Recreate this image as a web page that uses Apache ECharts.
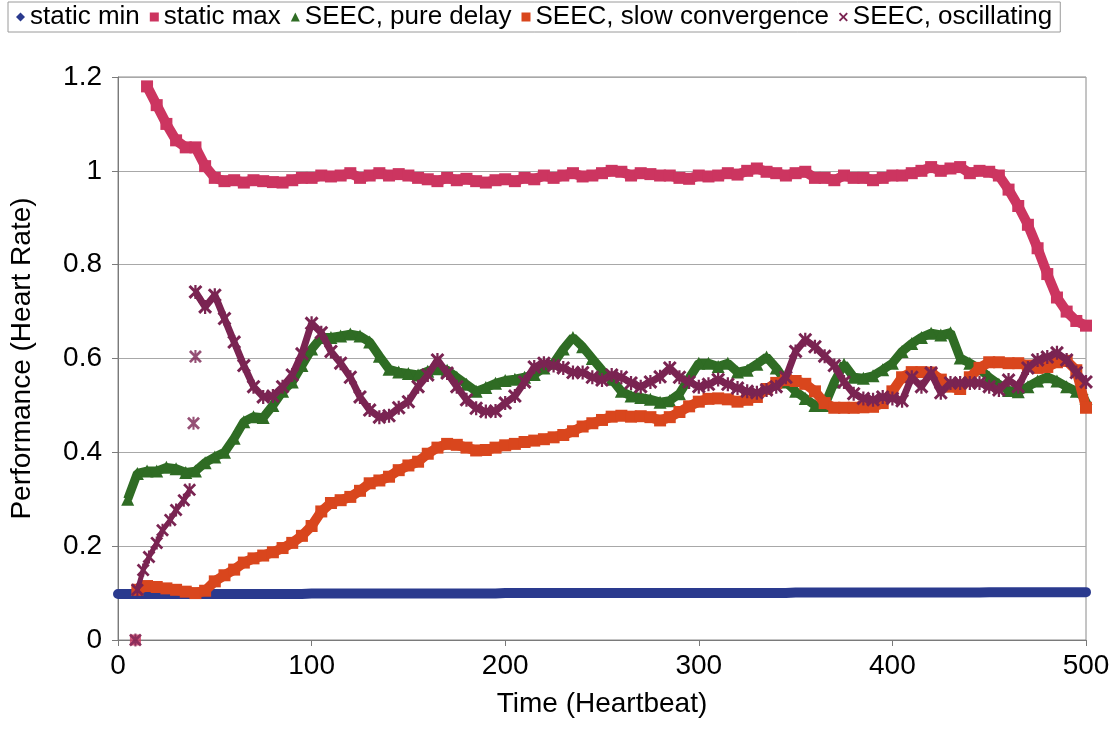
<!DOCTYPE html>
<html>
<head>
<meta charset="utf-8">
<script src="https://cdn.jsdelivr.net/npm/echarts@6/dist/echarts.min.js"></script>
<style>
html,body{margin:0;padding:0;background:#fff;}
#chart{width:1114px;height:748px;}
</style>
</head>
<body>
<div id="chart"></div>
<script>
// ---- data ----
const heartbeats = [
  0, 5, 10, 15, 20, 25, 30, 35, 40, 45,
  50, 55, 60, 65, 70, 75, 80, 85, 90, 95,
  100, 105, 110, 115, 120, 125, 130, 135, 140, 145,
  150, 155, 160, 165, 170, 175, 180, 185, 190, 195,
  200, 205, 210, 215, 220, 225, 230, 235, 240, 245,
  250, 255, 260, 265, 270, 275, 280, 285, 290, 295,
  300, 305, 310, 315, 320, 325, 330, 335, 340, 345,
  350, 355, 360, 365, 370, 375, 380, 385, 390, 395,
  400, 405, 410, 415, 420, 425, 430, 435, 440, 445,
  450, 455, 460, 465, 470, 475, 480, 485, 490, 495,
  500
];

const staticMin = [
  0.098, 0.098, 0.098, 0.098, 0.098, 0.098, 0.098, 0.098, 0.098, 0.098,
  0.098, 0.098, 0.098, 0.098, 0.098, 0.098, 0.098, 0.098, 0.098, 0.098,
  0.099, 0.099, 0.099, 0.099, 0.099, 0.099, 0.099, 0.099, 0.099, 0.099,
  0.099, 0.099, 0.099, 0.099, 0.099, 0.099, 0.099, 0.099, 0.099, 0.099,
  0.1, 0.1, 0.1, 0.1, 0.1, 0.1, 0.1, 0.1, 0.1, 0.1,
  0.1, 0.1, 0.1, 0.1, 0.1, 0.1, 0.1, 0.1, 0.1, 0.1,
  0.1, 0.1, 0.1, 0.1, 0.1, 0.1, 0.1, 0.1, 0.1, 0.1,
  0.101, 0.101, 0.101, 0.101, 0.101, 0.101, 0.101, 0.101, 0.101, 0.101,
  0.101, 0.101, 0.101, 0.101, 0.101, 0.101, 0.101, 0.101, 0.101, 0.101,
  0.102, 0.102, 0.102, 0.102, 0.102, 0.102, 0.102, 0.102, 0.102, 0.102,
  0.102
];

const staticMax = [
  null, null, null, 1.18, 1.14, 1.10, 1.065, 1.05, 1.05, 1.01,
  0.985, 0.978, 0.98, 0.975, 0.98, 0.978, 0.976, 0.975, 0.98, 0.985,
  0.985, 0.99, 0.988, 0.99, 0.995, 0.985, 0.99, 0.995, 0.99, 0.993,
  0.99, 0.985, 0.982, 0.978, 0.985, 0.98, 0.983, 0.978, 0.975, 0.98,
  0.982, 0.978, 0.985, 0.982, 0.99, 0.985, 0.99, 0.995, 0.988, 0.99,
  0.995, 1.0, 0.998, 0.99, 0.995, 0.993, 0.99, 0.99, 0.985, 0.983,
  0.99, 0.988, 0.99, 0.995, 0.992, 1.0, 1.005, 0.998, 0.995, 0.99,
  0.995, 0.998, 0.985, 0.985, 0.98, 0.99, 0.985, 0.985, 0.98, 0.985,
  0.99, 0.99, 0.995, 1.0, 1.008, 1.0, 1.005, 1.008, 0.995, 1.0,
  0.998, 0.99, 0.96, 0.925, 0.885, 0.835, 0.78, 0.73, 0.70, 0.68,
  0.67
];

const pureDelay = [
  null, 0.30, 0.355, 0.36, 0.36, 0.368, 0.365, 0.357, 0.36, 0.378,
  0.39, 0.40, 0.43, 0.465, 0.476, 0.474, 0.50, 0.53, 0.55, 0.585,
  0.62, 0.645, 0.645, 0.648, 0.652, 0.648, 0.635, 0.605, 0.577, 0.571,
  0.568, 0.565, 0.573, 0.578, 0.575, 0.56, 0.545, 0.53, 0.538, 0.547,
  0.553, 0.556, 0.56, 0.566, 0.58, 0.59, 0.62, 0.645, 0.625, 0.60,
  0.575, 0.556, 0.53, 0.52, 0.517, 0.513, 0.507, 0.51, 0.525, 0.558,
  0.59, 0.59, 0.583, 0.59, 0.571, 0.575, 0.588, 0.603, 0.58, 0.55,
  0.53, 0.515, 0.50, 0.50, 0.55, 0.588, 0.56, 0.558, 0.563, 0.576,
  0.59, 0.615, 0.632, 0.645, 0.654, 0.65, 0.655, 0.601, 0.59, 0.578,
  0.56, 0.545, 0.532, 0.529, 0.54, 0.552, 0.561, 0.552, 0.54, 0.53,
  0.515
];

const slowConvergence = [
  null, null, 0.107, 0.115, 0.113, 0.11, 0.107, 0.103, 0.1, 0.105,
  0.125, 0.138, 0.15, 0.165, 0.174, 0.18, 0.187, 0.196, 0.207, 0.222,
  0.243, 0.274, 0.292, 0.298, 0.305, 0.318, 0.334, 0.34, 0.348, 0.362,
  0.372, 0.38, 0.397, 0.41, 0.418, 0.416, 0.41, 0.404, 0.405, 0.41,
  0.415, 0.418, 0.422, 0.425, 0.428, 0.432, 0.437, 0.445, 0.455, 0.462,
  0.469, 0.476, 0.478, 0.476, 0.477, 0.475, 0.468, 0.475, 0.486, 0.498,
  0.508, 0.514, 0.515, 0.513, 0.508, 0.512, 0.518, 0.535, 0.548, 0.554,
  0.552, 0.546, 0.53, 0.505, 0.495, 0.495, 0.495, 0.496, 0.497, 0.505,
  0.53, 0.56, 0.571, 0.571, 0.57, 0.555, 0.54, 0.535, 0.56, 0.58,
  0.592, 0.592, 0.59, 0.59, 0.585, 0.58, 0.582, 0.592, 0.595, 0.575,
  0.495
];

const oscillating = [
  null, null, null, null, null, null, null, null, 0.742, 0.71,
  0.735, 0.685, 0.635, 0.585, 0.54, 0.518, 0.52, 0.54, 0.565, 0.61,
  0.675, 0.655, 0.615, 0.59, 0.56, 0.518, 0.49, 0.475, 0.478, 0.495,
  0.508, 0.54, 0.565, 0.597, 0.569, 0.54, 0.512, 0.494, 0.487, 0.488,
  0.505, 0.52, 0.55, 0.582, 0.59, 0.585, 0.58, 0.57, 0.57, 0.56,
  0.554, 0.565, 0.56, 0.548, 0.54, 0.55, 0.561, 0.58, 0.56, 0.55,
  0.54, 0.545, 0.555, 0.545, 0.537, 0.53, 0.527, 0.533, 0.54, 0.56,
  0.615, 0.64, 0.625, 0.605, 0.585, 0.55, 0.525, 0.515, 0.512, 0.518,
  0.515, 0.51, 0.56, 0.54, 0.569, 0.527, 0.548, 0.548, 0.548, 0.548,
  0.54, 0.533, 0.554, 0.54, 0.58, 0.597, 0.603, 0.612, 0.597, 0.57,
  0.55
];

// early ramp of the oscillating controller (before it jumps up)
const oscRampBeats  = [10, 13, 16, 20, 23, 27, 30, 34, 37];
const oscRampValues = [0.107, 0.149, 0.177, 0.207, 0.234, 0.256, 0.277, 0.298, 0.32];
// isolated points
const oscLooseBeats  = [9, 39, 40];
const oscLooseValues = [0, 0.462, 0.604];
const maxLooseBeats  = [9];
const maxLooseValues = [0];

const seriesNames = ['static min', 'static max', 'SEEC, pure delay', 'SEEC, slow convergence', 'SEEC, oscillating'];
const xTicks = [0, 100, 200, 300, 400, 500];
const yTicks = [0, 0.2, 0.4, 0.6, 0.8, 1.0, 1.2];

// ---- build ----
function pairs(xs, ys) {
  return xs.map((x, i) => [x, ys[i] == null ? '-' : ys[i]]);
}
const colors = {
  min: '#2a3a8e',
  max: '#cc3560',
  delay: '#2f6c24',
  slow: '#d9461d',
  osc: '#7a2452'
};
const starPath = 'path://M1.5,0 L5,3.5 L8.5,0 L10,1.5 L6.5,5 L10,8.5 L8.5,10 L5,6.5 L1.5,10 L0,8.5 L3.5,5 L0,1.5 Z M4.2,0 L5.8,0 L5.8,10 L4.2,10 Z';
const xPath = 'path://M1.5,0 L5,3.5 L8.5,0 L10,1.5 L6.5,5 L10,8.5 L8.5,10 L5,6.5 L1.5,10 L0,8.5 L3.5,5 L0,1.5 Z';
const font = "'Liberation Sans', Arial, sans-serif";

const chart = echarts.init(document.getElementById('chart'), null, {renderer: 'canvas'});
chart.setOption({
  animation: false,
  backgroundColor: '#fff',
  textStyle: {fontFamily: font},
  legend: {
    left: 8, top: 2,
    padding: [2, 8, 2, 8],
    borderColor: '#9a9a9a', borderWidth: 1,
    itemWidth: 9, itemHeight: 9, itemGap: 10,
    textStyle: {fontSize: 26, color: '#000', fontFamily: font},
    data: [
      {name: seriesNames[0], icon: 'diamond'},
      {name: seriesNames[1], icon: 'rect'},
      {name: seriesNames[2], icon: 'triangle'},
      {name: seriesNames[3], icon: 'rect'},
      {name: seriesNames[4], icon: xPath}
    ]
  },
  grid: {left: 118, right: 28, top: 77, bottom: 108, show: true, borderColor: '#8a8a8a', borderWidth: 1, backgroundColor: '#fff'},
  xAxis: {
    type: 'value', min: 0, max: 500, interval: 100,
    name: 'Time (Heartbeat)', nameLocation: 'middle', nameGap: 50,
    nameTextStyle: {fontSize: 28, color: '#000', fontFamily: font},
    axisLine: {lineStyle: {color: '#7a7a7a', width: 1}},
    axisTick: {show: true, inside: false, length: 6, lineStyle: {color: '#7a7a7a'}},
    axisLabel: {fontSize: 28, color: '#000', margin: 12, fontFamily: font,
      customValues: xTicks},
    splitLine: {show: false}
  },
  yAxis: {
    type: 'value', min: 0, max: 1.2, interval: 0.2,
    name: 'Performance (Heart Rate)', nameLocation: 'middle', nameGap: 82,
    nameTextStyle: {fontSize: 28, color: '#000', fontFamily: font},
    axisLine: {show: true, lineStyle: {color: '#7a7a7a', width: 1}},
    axisTick: {show: true, inside: false, length: 6, lineStyle: {color: '#7a7a7a'}},
    axisLabel: {fontSize: 28, color: '#000', margin: 16, fontFamily: font,
      formatter: v => String(Math.round(v * 10) / 10)},
    splitLine: {show: true, lineStyle: {color: '#a8a8a8', width: 1}}
  },
  series: [
    {
      name: seriesNames[0], type: 'line', data: pairs(heartbeats, staticMin),
      showSymbol: false, symbol: 'diamond', color: colors.min,
      lineStyle: {width: 10, cap: 'round', color: colors.min}, z: 2
    },
    {
      name: seriesNames[1], type: 'line', data: pairs(heartbeats, staticMax),
      symbol: 'rect', symbolSize: 12, showAllSymbol: true, color: colors.max,
      lineStyle: {width: 10, color: colors.max}, itemStyle: {color: colors.max}, z: 3
    },
    {
      name: seriesNames[1], type: 'scatter', data: pairs(maxLooseBeats, maxLooseValues),
      symbol: 'rect', symbolSize: 11, color: colors.max, itemStyle: {color: colors.max}, z: 3
    },
    {
      name: seriesNames[2], type: 'line', data: pairs(heartbeats, pureDelay),
      symbol: 'triangle', symbolSize: 13, showAllSymbol: true, color: colors.delay,
      lineStyle: {width: 9, color: colors.delay}, itemStyle: {color: colors.delay}, z: 4
    },
    {
      name: seriesNames[3], type: 'line', data: pairs(heartbeats, slowConvergence),
      symbol: 'rect', symbolSize: 12, showAllSymbol: true, color: colors.slow,
      lineStyle: {width: 10, color: colors.slow}, itemStyle: {color: colors.slow}, z: 5
    },
    {
      name: seriesNames[4], type: 'line', data: pairs(heartbeats, oscillating),
      symbol: starPath, symbolSize: 14, showAllSymbol: true, color: colors.osc,
      lineStyle: {width: 7, color: colors.osc}, itemStyle: {color: colors.osc}, z: 6
    },
    {
      name: seriesNames[4], type: 'line', data: pairs(oscRampBeats, oscRampValues),
      symbol: starPath, symbolSize: 13, showAllSymbol: true, color: colors.osc,
      lineStyle: {width: 5, color: colors.osc}, itemStyle: {color: colors.osc}, z: 6
    },
    {
      name: seriesNames[4], type: 'scatter', data: pairs(oscLooseBeats, oscLooseValues),
      symbol: starPath, symbolSize: 13, color: colors.osc, itemStyle: {color: colors.osc}, z: 7
    }
  ]
});
</script>
</body>
</html>
